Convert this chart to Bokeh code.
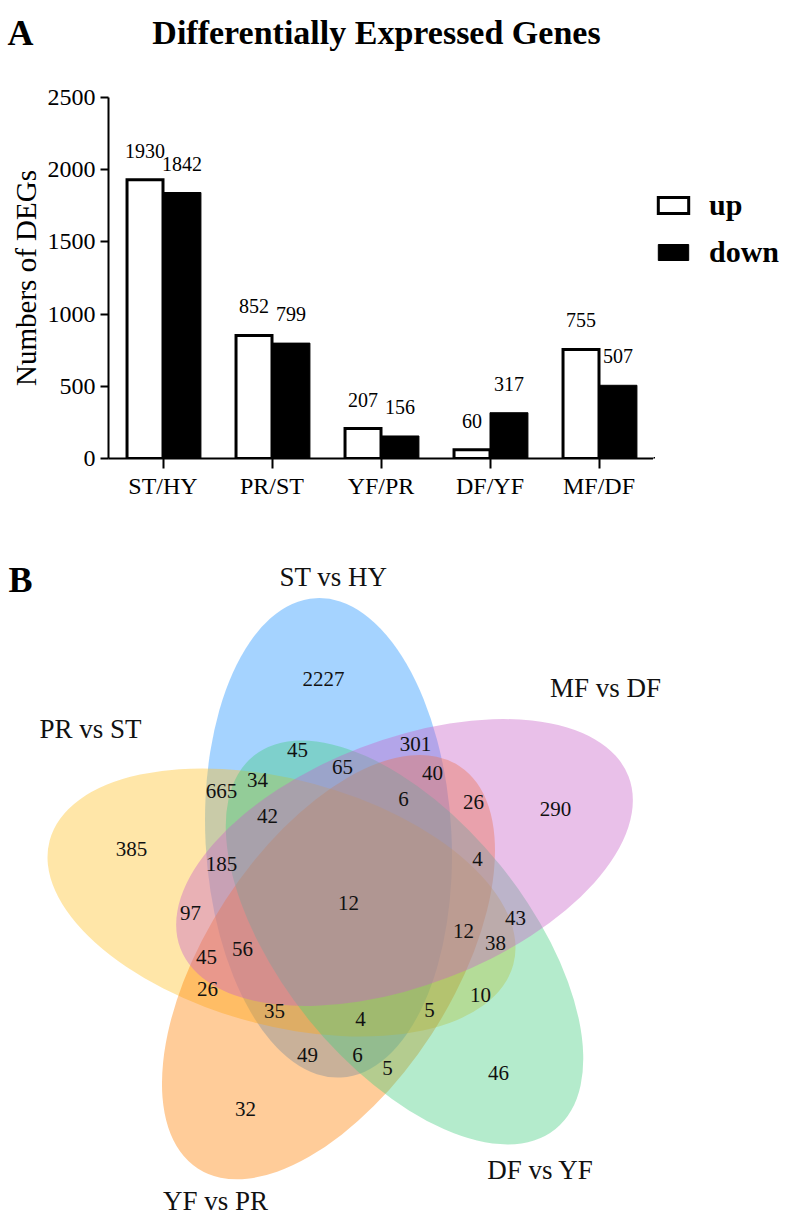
import math
from bokeh.plotting import figure
from bokeh.models import (Range1d, FactorRange, ColumnDataSource, Legend, LegendItem,
                          FixedTicker)
from bokeh.transform import dodge
from bokeh.layouts import row
from bokeh.core.properties import value
from bokeh.embed import file_html
from bokeh.resources import INLINE

# ---------------- data ----------------
categories = ["ST/HY", "PR/ST", "YF/PR", "DF/YF", "MF/DF"]
up_counts = [1930, 852, 207, 60, 755]
down_counts = [1842, 799, 156, 317, 507]
y_ticks = [0, 500, 1000, 1500, 2000, 2500]
series_names = ["up", "down"]

venn_sets = ["ST vs HY", "PR vs ST", "YF vs PR", "DF vs YF", "MF vs DF"]
region_counts = [2227, 385, 290, 46, 32,
                 45, 65, 665, 34, 42, 185, 301, 40, 6, 26, 4,
                 12, 97, 56, 45, 26, 35, 4, 49, 6, 5,
                 43, 12, 38, 10, 5]

# ---------------- layout (positions, sizes, styles) ----------------
SERIF = value("Liberation Serif")
W = 787
H0, H1, H2 = 60, 488, 668          # header, bar chart, venn heights
W1 = 653                           # bar chart width (legend strip to its right)

# region label positions (page pixel coordinates)
region_px = [(323, 678), (131, 848), (555, 808), (498, 1072), (245, 1108),
             (297, 749), (342, 766), (221, 790), (257, 779), (267, 815), (221, 863),
             (415, 743), (432, 772), (403, 798), (473, 801), (477, 858),
             (348, 902), (190, 912), (242, 948), (206, 956), (207, 988), (274, 1010),
             (360, 1018), (307, 1054), (357, 1054), (387, 1067),
             (515, 917), (463, 930), (495, 942), (480, 994), (429, 1009)]
set_label_px = [(333, 576), (90, 728), (215, 1200), (540, 1169), (605, 687)]
set_colors = ["#1E90FF", "#FFC125", "#FF7F00", "#43CD80", "#C862C8"]
set_theta = [108, 180, 252, 324, 36]   # direction of each petal (deg)
CX, CY = 349, 902                          # venn centre in page px
DIST, SEMI_A, SEMI_B, TILT = 68, 240, 123, -15


def vx(px):
    return px - CX


def vy(py):
    return CY - py


def bare(fig):
    fig.axis.visible = False
    fig.grid.visible = False
    fig.outline_line_color = None


# ---------------- header (panel letter + title) ----------------
p0 = figure(width=W, height=H0, x_range=Range1d(0, W), y_range=Range1d(-H0, 0),
            output_backend="svg", toolbar_location=None,
            min_border=0, min_border_left=0, min_border_right=0,
            min_border_top=0, min_border_bottom=0)
bare(p0)
p0.text(x=[20], y=[-32], text=["A"], text_align="center", text_baseline="alphabetic",
        text_font=SERIF, text_font_size="36px", text_font_style="bold", text_color="black")
p0.text(x=[376], y=[-32], text=["Differentially Expressed Genes"], text_align="center",
        text_baseline="alphabetic", text_font=SERIF, text_font_size="34px",
        text_font_style="bold", text_color="black")

# ---------------- bar chart ----------------
p1 = figure(width=W1, height=H1, x_range=FactorRange(*categories), y_range=Range1d(0, 2500),
            output_backend="svg", toolbar_location=None,
            min_border_left=108, min_border_right=0, min_border_top=37, min_border_bottom=90)
p1.outline_line_color = None
p1.grid.visible = False

src = ColumnDataSource(dict(cat=categories, up=up_counts, down=down_counts,
                            up_txt=[str(v) for v in up_counts],
                            down_txt=[str(v) for v in down_counts]))

UP_STYLE = dict(fill_color="white", line_color="black", line_width=3, line_join="miter")
DOWN_STYLE = dict(fill_color="black", line_color="black", line_width=1)

p1.vbar(x=dodge("cat", -0.165, range=p1.x_range), top="up", width=0.33, bottom=0,
        source=src, **UP_STYLE)
p1.vbar(x=dodge("cat", 0.174, range=p1.x_range), top="down", width=0.348, bottom=0,
        source=src, **DOWN_STYLE)

p1.text(x=dodge("cat", -0.165, range=p1.x_range), y="up", text="up_txt", source=src,
        y_offset=-29, text_align="center", text_baseline="middle",
        text_font=SERIF, text_font_size="20px", text_color="black")
p1.text(x=dodge("cat", 0.174, range=p1.x_range), y="down", text="down_txt", source=src,
        y_offset=-29, text_align="center", text_baseline="middle",
        text_font=SERIF, text_font_size="20px", text_color="black")

for ax in (p1.xaxis[0], p1.yaxis[0]):
    ax.axis_line_width = 2
    ax.axis_line_color = "black"
    ax.major_tick_line_width = 2
    ax.major_tick_line_color = "black"
    ax.major_tick_in = 0
    ax.minor_tick_line_color = None
    ax.major_label_text_font = "Liberation Serif"
    ax.major_label_text_font_size = "24px"
    ax.major_label_text_color = "black"

p1.yaxis.ticker = FixedTicker(ticks=y_ticks)
p1.yaxis.major_tick_out = 8
p1.yaxis.major_label_standoff = 5
p1.yaxis.axis_label = "Numbers of DEGs"
p1.yaxis.axis_label_text_font = "Liberation Serif"
p1.yaxis.axis_label_text_font_size = "29px"
p1.yaxis.axis_label_text_font_style = "normal"
p1.yaxis.axis_label_text_color = "black"
p1.yaxis.axis_label_standoff = 3
p1.xaxis.major_tick_out = 10
p1.xaxis.major_label_standoff = 4

# ---------------- legend strip ----------------
# legend keys: glyphs placed outside the visible range, used only for the legend swatches
pl = figure(width=W - W1, height=H1, x_range=Range1d(0, 1), y_range=Range1d(0, 1),
            output_backend="svg", toolbar_location=None,
            min_border_left=0, min_border_right=0, min_border_top=37, min_border_bottom=90)
bare(pl)
key_src = ColumnDataSource(dict(x=[-5.0], top=[-5.0]))
k_up = pl.vbar(x="x", top="top", bottom=-6.0, width=0.1, source=key_src, **UP_STYLE)
k_down = pl.vbar(x="x", top="top", bottom=-6.0, width=0.1, source=key_src, **DOWN_STYLE)
legend = Legend(items=[LegendItem(label=series_names[0], renderers=[k_up]),
                       LegendItem(label=series_names[1], renderers=[k_down])],
                location=(1, 189), orientation="vertical",
                glyph_width=38, glyph_height=20,
                label_text_font="Liberation Serif", label_text_font_size="30px",
                label_text_font_style="bold", label_text_color="black",
                label_standoff=17, spacing=13,
                padding=0, margin=0, border_line_color=None, background_fill_alpha=0)
pl.add_layout(legend)

# ---------------- venn diagram ----------------
top2 = H0 + H1
p2 = figure(width=W, height=H2, x_range=Range1d(vx(0), vx(W)),
            y_range=Range1d(vy(top2 + H2), vy(top2)),
            output_backend="svg", toolbar_location=None,
            min_border=0, min_border_left=0, min_border_right=0,
            min_border_top=0, min_border_bottom=0)
bare(p2)

for i in range(len(venn_sets)):
    t = math.radians(set_theta[i])
    p2.ellipse(x=DIST * math.cos(t), y=DIST * math.sin(t), width=2 * SEMI_A, height=2 * SEMI_B,
               angle=set_theta[i] + TILT, angle_units="deg",
               fill_color=set_colors[i], fill_alpha=0.4, line_color=None)

rsrc = ColumnDataSource(dict(x=[vx(a) for a, b in region_px], y=[vy(b) for a, b in region_px],
                             t=[str(c) for c in region_counts]))
p2.text(x="x", y="y", text="t", source=rsrc, text_align="center", text_baseline="middle",
        text_font=SERIF, text_font_size="21px", text_color="#111111")

ssrc = ColumnDataSource(dict(x=[vx(a) for a, b in set_label_px], y=[vy(b) for a, b in set_label_px],
                             t=venn_sets))
p2.text(x="x", y="y", text="t", source=ssrc, text_align="center", text_baseline="middle",
        text_font=SERIF, text_font_size="27px", text_color="#111111")

p2.text(x=[vx(20)], y=[vy(579)], text=["B"], text_align="center", text_baseline="middle",
        text_font=SERIF, text_font_size="36px", text_font_style="bold", text_color="black")

open("out.html", "w").write(file_html([p0, row(p1, pl), p2], INLINE))
